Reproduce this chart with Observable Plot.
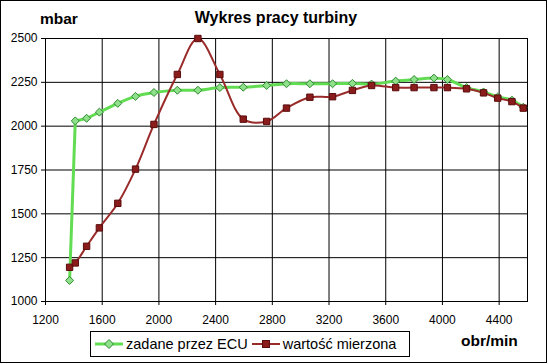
<!DOCTYPE html>
<html>
<head>
<meta charset="utf-8">
<script src="https://cdn.jsdelivr.net/npm/d3@7"></script>
<script src="https://cdn.jsdelivr.net/npm/@observablehq/plot@0.6"></script>
<style>
  html, body { margin: 0; padding: 0; background: #fff; }
  #wrap { position: relative; width: 548px; height: 364px; overflow: hidden; font-family: "Liberation Sans", Arial, sans-serif; }
  #border { position: absolute; left: 0; top: 0; width: 545px; height: 361px; border: 1px solid #000; pointer-events: none; }
  .lbl { position: absolute; font-weight: bold; white-space: nowrap; line-height: 1; }
  #title { left: 0; width: 548px; text-align: center; top: 10px; font-size: 16px; padding-left: 2px; }
  #ylab { left: 40px; top: 11px; font-size: 15.5px; }
  #xlab { left: 461px; top: 333px; font-size: 15.5px; }
  #legend { position: absolute; left: 90px; top: 331px; width: 318px; height: 24px; border: 1px solid #000; background: #fff; font-size: 14.5px; display: flex; align-items: center; white-space: nowrap; }
  #legend .item { display: flex; align-items: center; margin-left: 4px; }
  #legend svg { margin-right: 3px; }
</style>
</head>
<body>
<div id="wrap">
  <div id="chart"></div>
  <div class="lbl" id="title">Wykres pracy turbiny</div>
  <div class="lbl" id="ylab">mbar</div>
  <div class="lbl" id="xlab">obr/min</div>
  <div id="legend"></div>
  <div id="border"></div>
</div>
<script>
// Data
const rpm = [1370, 1410, 1490, 1580, 1710, 1835, 1965, 2130, 2275, 2430, 2595, 2760, 2900, 3065, 3225, 3365, 3500, 3670, 3800, 3940, 4035, 4170, 4290, 4390, 4490, 4570];
const zadane = [1120, 2030, 2045, 2080, 2130, 2170, 2192, 2205, 2205, 2220, 2222, 2232, 2242, 2242, 2242, 2244, 2240, 2257, 2266, 2274, 2266, 2220, 2195, 2166, 2148, 2108];
const zmierzona = [1195, 1220, 1315, 1420, 1560, 1755, 2010, 2295, 2500, 2295, 2040, 2027, 2103, 2165, 2168, 2204, 2232, 2220, 2220, 2220, 2220, 2213, 2190, 2160, 2140, 2103];
const seriesNames = ["zadane przez ECU", "wartość mierzona"];
const xTicks = [1200, 1600, 2000, 2400, 2800, 3200, 3600, 4000, 4400];
const yTicks = [1000, 1250, 1500, 1750, 2000, 2250, 2500];

const greenData = rpm.map((x, i) => ({x, y: zadane[i]}));
const redData = rpm.map((x, i) => ({x, y: zmierzona[i]}));

const GREEN_LINE = "#62dc52", GREEN_FILL = "#8fe08a", GREEN_STROKE = "#2f8a2f";
const RED_LINE = "#9a2b2b", RED_FILL = "#8a1c1c", RED_STROKE = "#5a0c0c";

const chart = Plot.plot({
  width: 548,
  height: 364,
  marginLeft: 45,
  marginRight: 21,
  marginTop: 38,
  marginBottom: 63,
  style: { fontFamily: "Liberation Sans, Arial, sans-serif", fontSize: "12px", color: "#000", background: "transparent" },
  x: { domain: [1200, 4600], ticks: xTicks, tickFormat: "d", label: null, tickSize: 4, tickPadding: 10 },
  y: { domain: [1000, 2500], ticks: yTicks, tickFormat: "d", label: null, tickSize: 4, tickPadding: 4 },
  marks: [
    Plot.gridX(xTicks, { stroke: "#000", strokeOpacity: 1 }),
    Plot.gridY(yTicks, { stroke: "#000", strokeOpacity: 1 }),
    Plot.frame({ stroke: "#000" }),
    Plot.axisX(xTicks, { tickFormat: "d", tickSize: 4, tickPadding: 10, stroke: "#000" }),
    Plot.axisY(yTicks, { tickFormat: "d", tickSize: 4, tickPadding: 4, stroke: "#000" }),
    // steep initial rise drawn straight, rest smoothed
    Plot.line(greenData.slice(0, 2), { x: "x", y: "y", stroke: GREEN_LINE, strokeWidth: 3, strokeLinecap: "round" }),
    Plot.line(greenData.slice(1), { x: "x", y: "y", stroke: GREEN_LINE, strokeWidth: 3, curve: "catmull-rom", strokeLinecap: "round" }),
    Plot.dot(greenData, { x: "x", y: "y", symbol: "diamond2", r: 3.6, fill: GREEN_FILL, stroke: GREEN_STROKE, strokeWidth: 1 }),
    Plot.line(redData, { x: "x", y: "y", stroke: RED_LINE, strokeWidth: 2, curve: "catmull-rom" }),
    Plot.dot(redData, { x: "x", y: "y", symbol: "square", r: 3.6, fill: RED_FILL, stroke: RED_STROKE, strokeWidth: 1 })
  ]
});
document.getElementById("chart").appendChild(chart);

// Legend
const legend = document.getElementById("legend");
const swatches = [
  { line: GREEN_LINE, w: 3, shape: `<path d="M14,1.5 L18.5,6 L14,10.5 L9.5,6 Z" fill="${GREEN_FILL}" stroke="${GREEN_STROKE}"/>` },
  { line: RED_LINE, w: 2, shape: `<rect x="10.5" y="2.5" width="7" height="7" fill="${RED_FILL}" stroke="${RED_STROKE}"/>` }
];
seriesNames.forEach((name, i) => {
  const s = swatches[i];
  const item = document.createElement("div");
  item.className = "item";
  item.innerHTML = `<svg width="28" height="12"><line x1="0" x2="28" y1="6" y2="6" stroke="${s.line}" stroke-width="${s.w}"/>${s.shape}</svg><span>${name}</span>`;
  legend.appendChild(item);
});
</script>
</body>
</html>
